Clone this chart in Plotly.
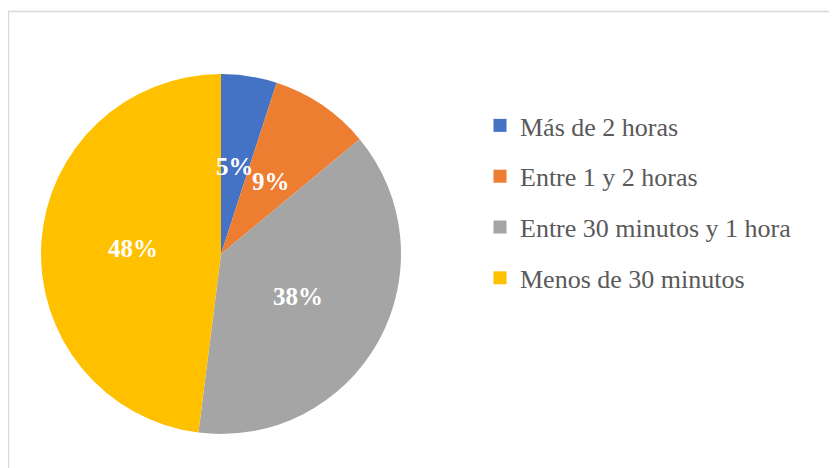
import math
import plotly.graph_objects as go

categories = ["Más de 2 horas", "Entre 1 y 2 horas", "Entre 30 minutos y 1 hora", "Menos de 30 minutos"]
values = [5, 9, 38, 48]
colors = ["#4472C4", "#ED7D31", "#A5A5A5", "#FFC000"]

W, H = 837, 468
FONT = "serif"
LABEL_R = 0.49  # data labels at ~half radius (Excel best-fit style)

# pie frame in figure pixels
PX0, PX1, PY0, PY1 = 33, 393, 66, 426
xdom = [PX0 / W, PX1 / W]
ydom = [1 - PY1 / H, 1 - PY0 / H]

fig = go.Figure()
fig.add_trace(go.Pie(
    labels=categories, values=values, sort=False, direction="clockwise", rotation=0,
    marker=dict(colors=colors, line=dict(width=0)),
    textinfo="none", showlegend=False, hoverinfo="label+percent",
    domain=dict(x=xdom, y=ydom),
))
for i, (cat, col) in enumerate(zip(categories, colors)):
    fig.add_trace(go.Scatter(
        x=[None], y=[None], mode="markers", name=cat, legendgroup=f"g{i}",
        marker=dict(symbol="square", size=13, color=col), showlegend=True,
    ))

# percentage labels placed on hidden axes that share the pie's frame
total = sum(values)
annotations = []
cum = 0
for v in values:
    mid = (cum + v / 2) / total * 2 * math.pi
    cum += v
    annotations.append(dict(
        x=LABEL_R * math.sin(mid), y=LABEL_R * math.cos(mid), xref="x", yref="y",
        text=f"<b>{round(v / total * 100)}%</b>", showarrow=False,
        font=dict(family=FONT, size=25, color="white"),
    ))

fig.update_layout(
    width=W, height=H, margin=dict(l=0, r=0, t=0, b=0),
    paper_bgcolor="white", plot_bgcolor="rgba(0,0,0,0)",
    xaxis=dict(visible=False, domain=xdom, range=[-1, 1], fixedrange=True),
    yaxis=dict(visible=False, domain=ydom, range=[-1, 1], fixedrange=True),
    font=dict(family=FONT),
    legend=dict(x=472 / W, xanchor="left", y=1 - 194 / H, yanchor="middle",
                font=dict(family=FONT, size=26, color="#595959"),
                tracegroupgap=14, itemwidth=30, bgcolor="rgba(0,0,0,0)"),
    annotations=annotations,
    shapes=[dict(type="rect", xref="paper", yref="paper", x0=0.5 / W, x1=1.02,
                 y0=-0.02, y1=1 - 3.5 / H, line=dict(color="#D9D9D9", width=1.5),
                 layer="below")],
)
fig.write_html("out.html")
